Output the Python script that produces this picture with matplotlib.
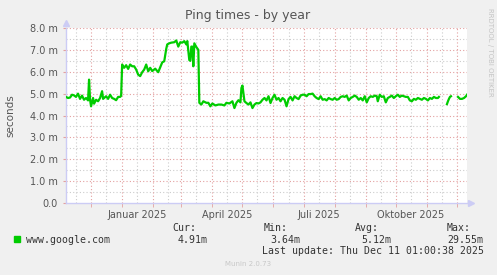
import matplotlib
matplotlib.use("Agg")
import matplotlib.pyplot as plt
import numpy as np
import pandas as pd

# Munin "Ping times - by year" (400 days ending Dec 11 2025)
start = pd.Timestamp("2024-11-06 01:00")
end = start + pd.Timedelta(days=400)

# days since start, ping in ms (nan = no data)
days = [0, 2, 4, 6, 8, 10, 12, 14, 16, 18, 20, 22, 23, 24, 25, 27, 28, 30, 32, 34,
        36, 37, 40, 42, 44, 46, 48, 50, 52, 54, 55, 56, 58, 60, 62, 64, 66, 68, 70, 72,
        74, 76, 78, 80, 82, 84, 86, 89, 92, 94, 96, 98, 100, 101, 103, 105, 108, 110, 112, 114,
        116, 118, 120, 121, 123, 124, 125, 126, 127, 128, 130, 132, 133, 135, 137, 140, 142, 144, 146, 149,
        152, 155, 158, 160, 163, 166, 168, 170, 172, 174, 175, 176, 178, 180, 182, 184, 186, 188, 190, 192,
        194, 196, 198, 200, 202, 204, 206, 208, 210, 212, 214, 216, 218, 220, 222, 224, 226, 228, 230, 232,
        234, 236, 238, 240, 242, 244, 246, 248, 250, 252, 254, 256, 258, 260, 262, 264, 266, 268, 270, 272,
        274, 276, 278, 280, 282, 284, 286, 288, 290, 292, 294, 296, 298, 300, 302, 304, 306, 308, 310, 311,
        313, 315, 317, 319, 321, 323, 325, 327, 329, 331, 333, 335, 337, 339, 341, 343, 345, 347, 349, 351,
        353, 355, 357, 359, 361, 363, 365, 367, 369, 371, 372,
        380, 381, 382, 383, 384, 385,
        391, 393, 395, 397, 399, 400]
ping = [4.85, 4.80, 4.82, 4.95, 4.92, 4.85, 5.00, 4.76, 4.91, 4.72, 4.80, 4.69, 5.64, 4.72, 4.42, 4.80, 4.54, 4.72, 4.65, 4.80,
        5.11, 4.76, 4.88, 4.76, 4.95, 4.80, 4.76, 4.70, 4.85, 4.85, 4.90, 6.33, 6.18, 6.30, 6.13, 6.33, 6.25, 6.25, 6.10, 5.87,
        5.80, 5.98, 6.10, 6.33, 6.02, 6.18, 6.03, 6.14, 5.98, 6.20, 6.43, 6.48, 7.05, 7.25, 7.30, 7.33, 7.35, 7.43, 7.15, 7.35,
        7.33, 7.40, 7.25, 7.40, 6.53, 6.50, 7.15, 7.15, 6.25, 7.30, 7.13, 7.00, 4.58, 4.50, 4.65, 4.58, 4.58, 4.42, 4.55, 4.46,
        4.50, 4.50, 4.46, 4.58, 4.55, 4.65, 4.34, 4.58, 4.70, 4.60, 5.26, 5.37, 4.65, 4.57, 4.50, 4.60, 4.34, 4.50, 4.57, 4.55,
        4.60, 4.72, 4.80, 4.69, 4.88, 4.57, 4.80, 4.95, 4.72, 4.80, 4.65, 4.80, 4.72, 4.42, 4.75, 4.85, 4.69, 4.88, 4.80, 4.75,
        4.91, 4.95, 4.95, 4.88, 4.98, 4.98, 5.00, 4.88, 4.80, 4.75, 4.88, 4.72, 4.75, 4.69, 4.80, 4.75, 4.72, 4.80, 4.72, 4.75,
        4.85, 4.88, 4.85, 4.91, 4.69, 4.80, 4.85, 4.91, 4.85, 4.72, 4.80, 4.69, 4.88, 4.60, 4.80, 4.88, 4.85, 4.91, 4.88, 4.65,
        4.95, 4.85, 4.88, 4.60, 4.80, 4.85, 4.91, 4.80, 4.88, 4.95, 4.85, 4.91, 4.88, 4.85, 4.85, 4.69, 4.65, 4.76, 4.72, 4.80,
        4.76, 4.72, 4.80, 4.76, 4.69, 4.80, 4.76, 4.85, 4.80, 4.80, 4.85,
        4.52, 4.65, 4.76, 4.85, 4.88, np.nan,
        4.85, 4.76, 4.76, 4.80, 4.88, 4.95]

ytick_vals = [0, 1, 2, 3, 4, 5, 6, 7, 8]
ytick_labels = ["0.0", "1.0 m", "2.0 m", "3.0 m", "4.0 m", "5.0 m", "6.0 m", "7.0 m", "8.0 m"]
xlabel_dates = ["2025-01-16", "2025-04-16", "2025-07-16", "2025-10-16"]
xlabel_text = ["Januar 2025", "April 2025", "Juli 2025", "Oktober 2025"]

legend_name = "www.google.com"
stat_names = ["Cur:", "Min:", "Avg:", "Max:"]
stat_values = ["4.91m", "3.64m", "5.12m", "29.55m"]
last_update = "Last update: Thu Dec 11 01:00:38 2025"

# break the line where there is no data
t = [start + pd.Timedelta(days=d) for d in days]
series = pd.Series(ping, index=t)
gap_after = [start + pd.Timedelta(days=373), start + pd.Timedelta(days=387)]
for g in gap_after:
    series[g] = np.nan
series = series.sort_index()

W, H = 497, 275
fig = plt.figure(figsize=(W / 100, H / 100), dpi=100, facecolor="#f0f0f0")
ax = fig.add_axes([66 / W, 1 - 203 / H, 401 / W, 175 / H])
ax.set_facecolor("white")

red = "#e3a0a0"
grey = "#cccccc"
dots = (0, (1, 2))

for v in np.arange(0.5, 8.0, 1.0):
    ax.axhline(v, color=grey, lw=0.8, ls=dots, zorder=1)
for v in range(1, 9):
    ax.axhline(v, color=red, lw=0.8, ls=dots, zorder=1)

month_starts = pd.date_range("2024-12-01", "2025-12-01", freq="MS")
mid_months = [d + pd.Timedelta(days=15) for d in pd.date_range("2024-11-01", "2025-11-01", freq="MS")]
for d in mid_months:
    ax.axvline(d, color=grey, lw=0.8, ls=dots, zorder=1)
for d in month_starts:
    ax.axvline(d, color=red, lw=0.8, ls=dots, zorder=1)

ax.plot(series.index, series.values, color="#00cc00", lw=1.6, zorder=3)

ax.set_xlim(start, end)
ax.set_ylim(0, 8)

ax.set_yticks(ytick_vals)
ax.set_yticklabels(ytick_labels)
ax.set_xticks(pd.to_datetime(xlabel_dates))
ax.set_xticklabels(xlabel_text)
ax.set_xticks(month_starts, minor=True)
ax.tick_params(axis="x", which="major", length=0, pad=5, labelsize=7, labelcolor="#555555")
ax.tick_params(axis="x", which="minor", length=3, color=red, direction="out")
ax.tick_params(axis="y", which="major", length=2, color=red, pad=4, labelsize=7, labelcolor="#555555")

for s in ["top", "right"]:
    ax.spines[s].set_visible(False)
for s in ["left", "bottom"]:
    ax.spines[s].set_color("#ccccf5")
    ax.spines[s].set_linewidth(1)
ax.set_ylabel("seconds", fontsize=7.5, color="#555555")
ax.yaxis.set_label_coords(-0.125, 0.5)

# axis arrows
ax.plot([0], [1.03], marker="^", ms=4, color="#ccccf5", transform=ax.transAxes, clip_on=False)
ax.plot([1.01], [0], marker=">", ms=4, color="#ccccf5", transform=ax.transAxes, clip_on=False)

fig.text(248 / W, 1 - 16 / H, "Ping times - by year", ha="center", va="center",
         fontsize=9, color="#555555")
fig.text(490 / W, 1 - 52 / H, "RRDTOOL / TOBI OETIKER", rotation=270, ha="center", va="center",
         fontsize=5, color="#c4c4c4")

mono = "DejaVu Sans Mono"
fig.patches.append(plt.Rectangle((14 / W, 1 - 242 / H), 6 / W, 6 / H, transform=fig.transFigure,
                                 color="#00cc00"))
fig.text(26 / W, 1 - 240 / H, legend_name, fontsize=7.1, family=mono, color="#333333", va="center")
name_x = [172, 264, 355, 447]
val_x = [178, 270, 361, 447]
for nx, vx, n, v in zip(name_x, val_x, stat_names, stat_values):
    fig.text(nx / W, 1 - 228 / H, n, fontsize=7.1, family=mono, color="#333333", va="center")
    fig.text(vx / W, 1 - 240 / H, v, fontsize=7.1, family=mono, color="#333333", va="center")
fig.text(262 / W, 1 - 251 / H, last_update, fontsize=7.1, family=mono, color="#333333", va="center")
fig.text(248 / W, 1 - 264 / H, "Munin 2.0.73", ha="center", va="center", fontsize=5, color="#c8c8c8")

fig.savefig("out.png", dpi=100, facecolor=fig.get_facecolor())
